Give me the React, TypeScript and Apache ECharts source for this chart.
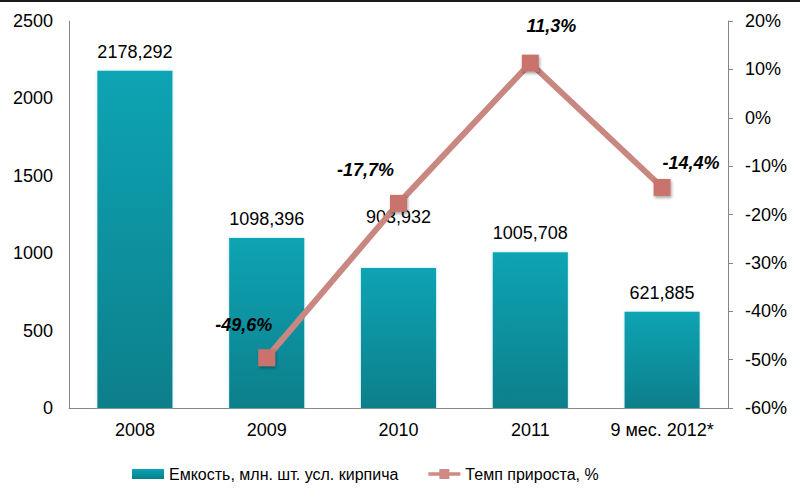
import React, { useEffect, useRef } from "react";
import * as echarts from "echarts";

const categories = ["2008", "2009", "2010", "2011", "9 мес. 2012*"];
const capacityValues = [2178.292, 1098.396, 903.932, 1005.708, 621.885];
const growthValues: (number | null)[] = [null, -49.6, -17.7, 11.3, -14.4];
const leftTicks = { min: 0, max: 2500, interval: 500 };
const rightTicks = { min: -60, max: 20, interval: 10 };
const seriesNames = ["Емкость, млн. шт. усл. кирпича", "Темп прироста, %"];

const barLabelOffsets: number[][] = [[0, 0], [0, 0], [0, -32], [0, 0], [0, 0]];
const lineLabelOffsets: number[][] = [[0, 0], [-23, -33], [-33, -33], [21, -37], [29, -24]];

const fmt = (v: number, d: number) => v.toFixed(d).replace(".", ",");

const lineLegendIcon =
  "path://M0,3.2L11,3.2L11,0L21,0L21,3.2L32,3.2L32,6.8L21,6.8L21,10L11,10L11,6.8L0,6.8Z";

export default function App() {
  const ref = useRef<HTMLDivElement>(null);
  useEffect(() => {
    document.body.style.margin = "0";
    if (!ref.current) return;
    const chart = echarts.init(ref.current, null, { renderer: "svg" });
    const font = "Liberation Sans, Arial, sans-serif";
    chart.setOption({
      animation: false,
      backgroundColor: "#ffffff",
      textStyle: { fontFamily: font },
      grid: { left: 69, right: 72, top: 21, bottom: 89, containLabel: false },
      graphic: [
        {
          type: "rect",
          left: 0,
          top: 0,
          shape: { width: 800, height: 2 },
          style: { fill: "#1a1a1a" },
        },
      ],
      legend: {
        left: 127,
        top: 461,
        itemGap: 30,
        itemWidth: 32,
        itemHeight: 10,
        textStyle: { fontSize: 16, color: "#000", fontFamily: font },
        data: [
          { name: seriesNames[0], icon: "rect" },
          {
            name: seriesNames[1],
            icon: lineLegendIcon,
            itemStyle: { color: "#cf8a84", shadowBlur: 0, shadowOffsetX: 0, shadowOffsetY: 0 },
          },
        ],
      },
      xAxis: {
        type: "category",
        data: categories,
        axisLine: { lineStyle: { color: "#868686", width: 1 } },
        axisTick: { show: false },
        axisLabel: { fontSize: 18, color: "#000", margin: 13, fontFamily: font, interval: 0 },
      },
      yAxis: [
        {
          type: "value",
          min: leftTicks.min,
          max: leftTicks.max,
          interval: leftTicks.interval,
          splitLine: { show: false },
          axisLine: { show: true, lineStyle: { color: "#868686" } },
          axisTick: { show: false },
          axisLabel: {
            fontSize: 18,
            color: "#000",
            margin: 16,
            fontFamily: font,
            formatter: (v: number) => String(v),
          },
        },
        {
          type: "value",
          position: "right",
          min: rightTicks.min,
          max: rightTicks.max,
          interval: rightTicks.interval,
          splitLine: { show: false },
          axisLine: { show: true, lineStyle: { color: "#868686" } },
          axisTick: { show: true, length: 5, lineStyle: { color: "#868686" } },
          axisLabel: {
            fontSize: 18,
            color: "#000",
            margin: 17,
            fontFamily: font,
            formatter: "{value}%",
          },
        },
      ],
      series: [
        {
          name: seriesNames[0],
          type: "bar",
          yAxisIndex: 0,
          barWidth: "57%",
          itemStyle: {
            color: new echarts.graphic.LinearGradient(0, 0, 0, 1, [
              { offset: 0, color: "#0aa4b4" },
              { offset: 1, color: "#077f8b" },
            ]),
            shadowColor: "rgba(120,210,225,0.6)",
            shadowBlur: 3,
          },
          data: capacityValues.map((v, i) => ({
            value: v,
            label: { offset: barLabelOffsets[i] },
          })),
          label: {
            show: true,
            position: "top",
            distance: 10,
            fontSize: 18,
            color: "#000",
            fontFamily: font,
            formatter: (p: any) => fmt(p.value, 3),
          },
          z: 2,
        },
        {
          name: seriesNames[1],
          type: "line",
          yAxisIndex: 1,
          symbol: "rect",
          symbolSize: 17,
          showAllSymbol: true,
          lineStyle: { color: "#c98781", width: 6 },
          itemStyle: {
            color: "#c9736c",
            shadowColor: "rgba(0,0,0,0.35)",
            shadowBlur: 3,
            shadowOffsetX: 1,
            shadowOffsetY: 2,
          },
          data: growthValues.map((v, i) => ({
            value: v,
            label: { offset: lineLabelOffsets[i] },
          })),
          label: {
            show: true,
            position: "inside",
            fontSize: 18,
            fontWeight: "bold",
            fontStyle: "italic",
            color: "#000",
            fontFamily: font,
            formatter: (p: any) => (p.value == null ? "" : fmt(p.value, 1) + "%"),
          },
          z: 3,
        },
      ],
    });
    return () => chart.dispose();
  }, []);
  return <div ref={ref} style={{ width: 800, height: 497 }} />;
}
